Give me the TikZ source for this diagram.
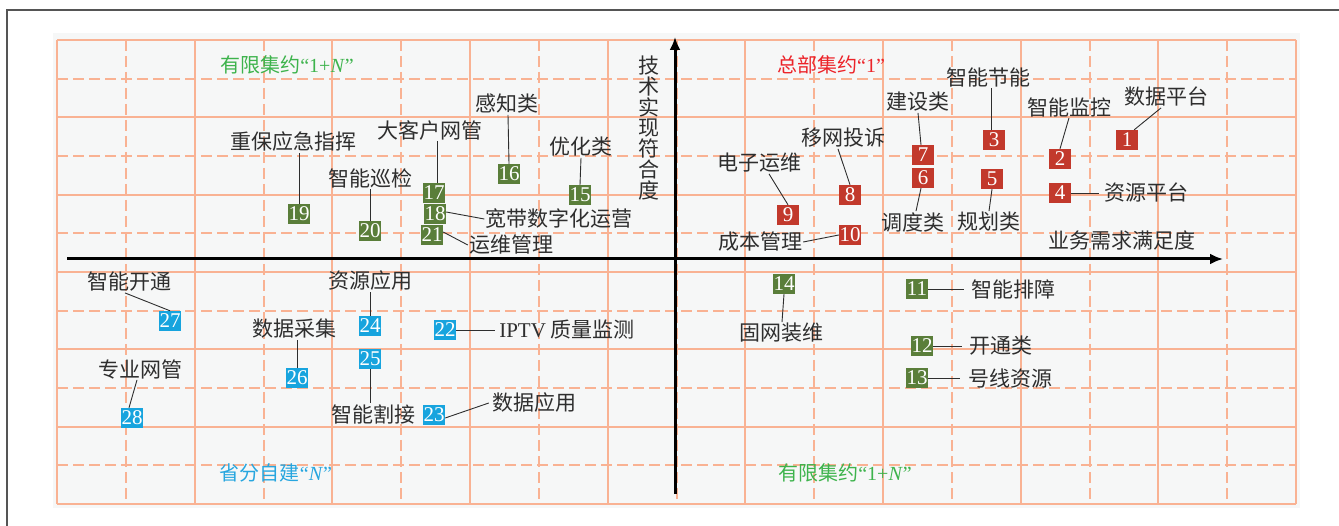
\documentclass[tikz,border=0pt]{standalone}
\usepackage{fontspec}
\setmainfont{Liberation Serif}
\newfontfamily\cjk{Noto Sans CJK SC}
\usetikzlibrary{arrows.meta}
\definecolor{gridc}{HTML}{F9B293}
\definecolor{bgc}{HTML}{F6F7F7}
\definecolor{txtc}{HTML}{2E2E2E}
\definecolor{boxred}{HTML}{C2392C}
\definecolor{boxgreen}{HTML}{5A7E3A}
\definecolor{boxblue}{HTML}{17A4DE}
\definecolor{qgreen}{HTML}{3DB34C}
\definecolor{qred}{HTML}{EC2329}
\definecolor{qblue}{HTML}{27A6DF}
\definecolor{framec}{HTML}{555555}
\begin{document}
\begin{tikzpicture}[x=1pt,y=-1pt,
  lbl/.style={font=\cjk\fontsize{21}{23}\selectfont, text=txtc, inner sep=1pt},
  qlbl/.style={font=\cjk\fontsize{20}{22}\selectfont, inner sep=1pt},
  nbox/.style={font=\fontsize{21}{21}\selectfont, text=white, minimum width=22pt, minimum height=20pt, inner sep=0.3pt},
  rbox/.style={nbox, fill=boxred},
  gbox/.style={nbox, fill=boxgreen},
  bbox/.style={nbox, fill=boxblue},
  conn/.style={draw=txtc, line width=0.9pt},
  gsolid/.style={draw=gridc, line width=2pt},
  gdash/.style={draw=gridc, line width=2pt, dash pattern=on 11pt off 5pt},
  axisline/.style={draw=black, line width=3pt, -{Latex[length=13pt,width=11pt]}}
]
\useasboundingbox (0,0) rectangle (1339,526);
% frame
\draw[framec, line width=1.5pt] (7,527) -- (7,10) -- (1340,10);
% background
\fill[bgc] (53,33) rectangle (1300,508);
% grid
\foreach \i in {1,3,...,17} { \draw[gdash] ({57+\i*68.833},40) -- ({57+\i*68.833},504); }
\foreach \j in {1,3,...,11} { \draw[gdash] (57,{40+\j*38.667}) -- (1296,{40+\j*38.667}); }
\foreach \i in {0,2,...,18} { \draw[gsolid] ({57+\i*68.833},40) -- ({57+\i*68.833},504); }
\foreach \j in {0,2,...,12} { \draw[gsolid] (57,{40+\j*38.667}) -- (1296,{40+\j*38.667}); }
% axes
\coordinate (xs) at (67,259);
\coordinate (xe) at (1223,259);
\coordinate (ys) at (675,494);
\coordinate (ye) at (675,37);
\draw[axisline] (xs) -- (xe);
\draw[axisline] (ys) -- (ye);
% axis labels
\node[lbl, align=center, font=\cjk\fontsize{21}{20.7}\selectfont] (yl) at (649,128) {技\\术\\实\\现\\符\\合\\度};
\node[lbl] (xl) at (1122,240) {业务需求满足度};
% quadrant labels
\node[qlbl, text=qgreen] (q1) at (287,65) {有限集约{\rmfamily “1+\textit{N}”}};
\node[qlbl, text=qred] (q2) at (831,65) {总部集约{\rmfamily “1”}};
\node[qlbl, text=qblue] (q3) at (276,473) {省分自建{\rmfamily “\textit{N}”}};
\node[qlbl, text=qgreen] (q4) at (845,473) {有限集约{\rmfamily “1+\textit{N}”}};
% red boxes
\node[rbox] (b1) at (1127,140) {1};
\node[rbox] (b2) at (1060,159) {2};
\node[rbox] (b3) at (994,140) {3};
\node[rbox] (b4) at (1060,193) {4};
\node[rbox] (b5) at (992,179) {5};
\node[rbox] (b6) at (923,178) {6};
\node[rbox] (b7) at (923,155) {7};
\node[rbox] (b8) at (850,195) {8};
\node[rbox] (b9) at (788,215) {9};
\node[rbox] (b10) at (850,235) {10};
% green boxes
\node[gbox] (b11) at (917,289) {11};
\node[gbox] (b12) at (922,346) {12};
\node[gbox] (b13) at (917,378) {13};
\node[gbox] (b14) at (784,284) {14};
\node[gbox] (b15) at (580,195) {15};
\node[gbox] (b16) at (509,174) {16};
\node[gbox] (b17) at (434,193) {17};
\node[gbox] (b18) at (435,214) {18};
\node[gbox] (b21) at (432,235) {21};
\node[gbox] (b19) at (299,214) {19};
\node[gbox] (b20) at (370,231) {20};
% blue boxes
\node[bbox] (b22) at (445,330) {22};
\node[bbox] (b23) at (434,415) {23};
\node[bbox] (b24) at (370,326) {24};
\node[bbox] (b25) at (370,359) {25};
\node[bbox] (b26) at (297,378) {26};
\node[bbox] (b27) at (170,321) {27};
\node[bbox] (b28) at (132,418) {28};
% labels
\node[lbl] (l1) at (1166,97) {数据平台};
\node[lbl] (l2) at (1069,107) {智能监控};
\node[lbl] (l3) at (988,77) {智能节能};
\node[lbl] (l4) at (1146,193) {资源平台};
\node[lbl] (l5) at (989,222) {规划类};
\node[lbl] (l6) at (913,222) {调度类};
\node[lbl] (l7) at (918,102) {建设类};
\node[lbl] (l8) at (843,138) {移网投诉};
\node[lbl] (l9) at (759,163) {电子运维};
\node[lbl] (l10) at (760,242) {成本管理};
\node[lbl] (l11) at (1013,289) {智能排障};
\node[lbl] (l12) at (1001,346) {开通类};
\node[lbl] (l13) at (1010,379) {号线资源};
\node[lbl] (l14) at (781,333) {固网装维};
\node[lbl] (l15) at (581,147) {优化类};
\node[lbl] (l16) at (507,104) {感知类};
\node[lbl] (l17) at (430,130) {大客户网管};
\node[lbl] (l18) at (559,219) {宽带数字化运营};
\node[lbl] (l21) at (511,245) {运维管理};
\node[lbl] (l19) at (293,142) {重保应急指挥};
\node[lbl] (l20) at (370,178) {智能巡检};
\node[lbl] (l22) at (567,330) {{\rmfamily IPTV} 质量监测};
\node[lbl] (l23) at (534,403) {数据应用};
\node[lbl] (l24) at (370,281) {资源应用};
\node[lbl] (l25) at (373,414) {智能割接};
\node[lbl] (l26) at (294,329) {数据采集};
\node[lbl] (l27) at (129,282) {智能开通};
\node[lbl] (l28) at (140,369) {专业网管};
% connectors
\draw[conn] ([xshift=-4pt]b1.north east) -- ([xshift=-5pt]l1.south);
\draw[conn] (b2.north) -- (l2.south);
\draw[conn] ([xshift=-3pt]b3.north) -- ([xshift=-3pt]b3.north |- l3.south);
\draw[conn] (b4.east) -- ([xshift=-4pt]b4.east -| l4.west);
\draw[conn] (b5.south) -- (l5.north);
\draw[conn] ([xshift=-2pt]b6.south) -- ([xshift=3pt]l6.north);
\draw[conn] ([xshift=-2pt]b7.north) -- (l7.south);
\draw[conn] (b8.north) -- ([xshift=-5pt]l8.south);
\draw[conn] (b9.north) -- ([xshift=10pt]l9.south);
\draw[conn] (b10.west) -- (l10.east);
\draw[conn] (b11.east) -- ([xshift=-6pt]b11.east -| l11.west);
\draw[conn] (b12.east) -- ([xshift=-6pt]b12.east -| l12.west);
\draw[conn] (b13.east) -- ([xshift=-7pt]b13.east -| l13.west);
\draw[conn] (b14.south) -- ([xshift=1pt]l14.north);
\draw[conn] (b15.north) -- (l15.south);
\draw[conn] (b16.north) -- ([xshift=1pt]l16.south);
\draw[conn] ([xshift=3pt]b17.north) -- ([xshift=3pt]b17.north |- l17.south);
\draw[conn] ([yshift=2pt]b18.east) -- (l18.west);
\draw[conn] ([yshift=3pt]b21.east) -- (l21.west);
\draw[conn] (b19.north) -- (b19.north |- l19.south);
\draw[conn] (b20.north) -- (b20.north |- l20.south);
\draw[conn] (b22.east) -- ([xshift=-3pt]b22.east -| l22.west);
\draw[conn] ([yshift=-3pt]b23.east) -- ([xshift=-2pt]l23.west);
\draw[conn] (b24.north) -- (b24.north |- l24.south);
\draw[conn] (b25.south) -- (b25.south |- l25.north);
\draw[conn] (b26.north) -- (b26.north |- l26.south);
\draw[conn] ([xshift=-4pt]l27.south) -- (b27.north);
\draw[conn] ([xshift=-3pt]b28.north) -- ([xshift=-3pt]l28.south);
\end{tikzpicture}
\end{document}
